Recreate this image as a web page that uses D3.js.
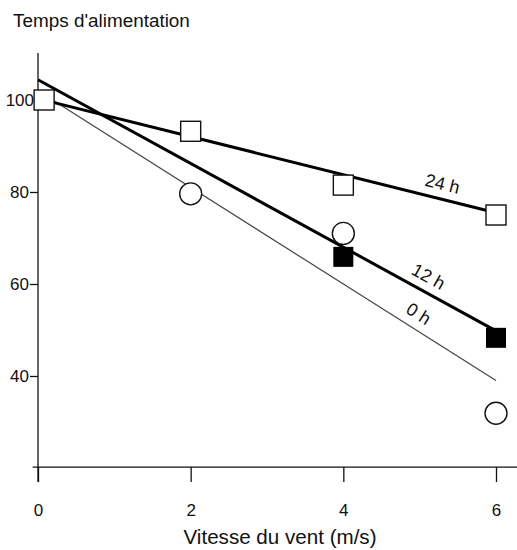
<!DOCTYPE html>
<html><head><meta charset="utf-8">
<script src="https://cdn.jsdelivr.net/npm/d3@7"></script>
<style>body{margin:0;background:#fff}svg{display:block}text{font-family:"Liberation Sans",Arial,Helvetica,sans-serif;fill:#111}</style>
</head><body><svg id="c" width="517" height="550"></svg>
<script>
// Data
const xTicks = [0, 2, 4, 6];
const yTicks = [40, 60, 80, 100];
const seriesNames = ["0 h", "12 h", "24 h"];
// observed points
const x0h = [2, 4, 6];            const v0h = [79.6, 71, 31.9];
const x12h = [4, 6];              const v12h = [65.9, 48.3];
const x24h = [0.08, 2, 4, 6];     const v24h = [100, 93.2, 81.5, 75];
// fitted lines (start at 0, end at 6)
const fitX = [0, 6];
const fit0h = [102, 39];
const fit12h = [104.4, 49.8];
const fit24h = [100.3, 75.5];
const labelX = [4.88, 5.02, 5.25];

const svg = d3.select("#c");
const x = d3.scaleLinear().domain([0, 6]).range([38, 496]);
const y = d3.scaleLinear().domain([40, 100]).range([376, 100]);

// title
svg.append("text").attr("x", 13).attr("y", 27).attr("font-size", 18.9).text("Temps d'alimentation");

// axes lines
const g = svg.append("g");
g.append("line").attr("x1", x(0)).attr("x2", x(0)).attr("y1", y(110.2)).attr("y2", 482).attr("stroke", "#111").attr("stroke-width", 1.3);
g.append("line").attr("x1", x(-0.07)).attr("x2", 517).attr("y1", y(20.2)).attr("y2", y(20.2)).attr("stroke", "#111").attr("stroke-width", 1.3);

const yAxis = d3.axisLeft(y).tickValues(yTicks.filter(d => d < 100)).tickSize(8).tickPadding(1);
const ya = svg.append("g").attr("transform", `translate(${x(0)},0)`).call(yAxis);
ya.select(".domain").remove();
ya.selectAll("line").attr("stroke", "#111").attr("stroke-width", 1.3);
ya.selectAll("text").attr("font-size", 17).attr("font-family", "Liberation Sans, Arial, sans-serif").attr("fill", "#111");
// 100 label (no visible tick, hidden by square)
svg.append("text").attr("x", x(0) - 4).attr("y", y(100)).attr("dy", "0.35em").attr("text-anchor", "end").attr("font-size", 17).text("100");

const xAxis = d3.axisBottom(x).tickValues(xTicks).tickSize(15).tickPadding(22).tickFormat(d3.format("d"));
const xa = svg.append("g").attr("transform", `translate(0,${y(20.2)})`).call(xAxis);
xa.select(".domain").remove();
xa.selectAll("line").attr("stroke", "#111").attr("stroke-width", 1.3);
xa.selectAll("text").attr("font-size", 17).attr("font-family", "Liberation Sans, Arial, sans-serif").attr("fill", "#111");

svg.append("text").attr("x", 280).attr("y", 544).attr("text-anchor", "middle").attr("font-size", 20.6).text("Vitesse du vent (m/s)");

// fit lines
const fits = [fit0h, fit12h, fit24h];
const widths = [1.2, 3, 3];
const colors = ["#444", "#000", "#000"];
fits.forEach((f, i) => {
  svg.append("line")
    .attr("x1", x(fitX[0])).attr("y1", y(f[0]))
    .attr("x2", x(fitX[1])).attr("y2", y(f[1]))
    .attr("stroke", colors[i]).attr("stroke-width", widths[i]);
  // label
  const lx = labelX[i];
  const ly = f[0] + (f[1] - f[0]) * (lx - fitX[0]) / (fitX[1] - fitX[0]);
  const ang = Math.atan2(y(f[1]) - y(f[0]), x(fitX[1]) - x(fitX[0])) * 180 / Math.PI;
  svg.append("text")
    .attr("transform", `translate(${x(lx)},${y(ly)}) rotate(${ang})`)
    .attr("y", -9).attr("text-anchor", "middle").attr("font-size", 18)
    .text(seriesNames[i]);
});

// markers
const sq = 20;
svg.selectAll(".c0").data(x0h.map((d, i) => [d, v0h[i]])).join("circle")
  .attr("cx", d => x(d[0])).attr("cy", d => y(d[1])).attr("r", 11)
  .attr("fill", "#fff").attr("stroke", "#111").attr("stroke-width", 1.4);
svg.selectAll(".s12").data(x12h.map((d, i) => [d, v12h[i]])).join("rect")
  .attr("x", d => x(d[0]) - sq / 2).attr("y", d => y(d[1]) - sq / 2).attr("width", sq).attr("height", sq)
  .attr("fill", "#000");
svg.selectAll(".s24").data(x24h.map((d, i) => [d, v24h[i]])).join("rect")
  .attr("x", d => x(d[0]) - sq / 2).attr("y", d => y(d[1]) - sq / 2).attr("width", sq).attr("height", sq)
  .attr("fill", "#fff").attr("stroke", "#111").attr("stroke-width", 1.4);
</script></body></html>
